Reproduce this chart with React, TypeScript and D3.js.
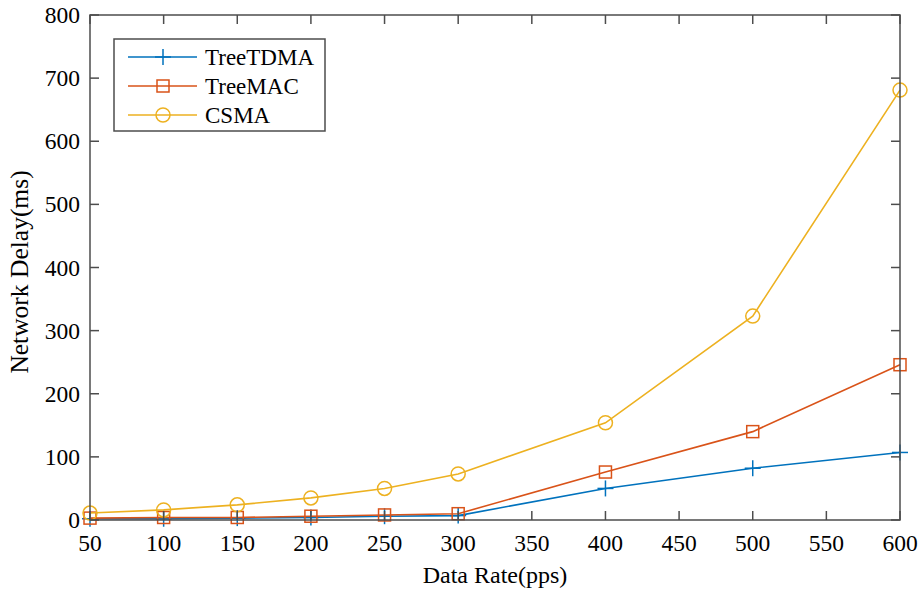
import React from "react";
import * as d3 from "d3";

const rates = [50, 100, 150, 200, 250, 300, 400, 500, 600];
const treeTDMA = [2, 2, 3, 4, 6, 7, 50, 82, 107];
const treeMAC = [3, 4, 4, 6, 8, 10, 76, 140, 246];
const csma = [11, 16, 24, 35, 50, 73, 154, 323, 681];
const xTicks = [50, 100, 150, 200, 250, 300, 350, 400, 450, 500, 550, 600];
const yTicks = [0, 100, 200, 300, 400, 500, 600, 700, 800];
const seriesNames = ["TreeTDMA", "TreeMAC", "CSMA"];

const W = 923, H = 590;
const L = 90, R = 900, T = 15, B = 520;
const font = "'Liberation Serif', 'Times New Roman', serif";
const axisColor = "#4d4d4d";

function Marker({ kind, x, y, color }: { kind: number; x: number; y: number; color: string }) {
  if (kind === 0)
    return (
      <g stroke={color} strokeWidth={1.5}>
        <line x1={x - 8} x2={x + 8} y1={y} y2={y} />
        <line x1={x} x2={x} y1={y - 8} y2={y + 8} />
      </g>
    );
  if (kind === 1)
    return <rect x={x - 6} y={y - 6} width={12} height={12} fill="none" stroke={color} strokeWidth={1.5} />;
  return <circle cx={x} cy={y} r={7} fill="none" stroke={color} strokeWidth={1.5} />;
}

export default function App() {
  const x = d3.scaleLinear().domain([50, 600]).range([L, R]);
  const y = d3.scaleLinear().domain([0, 800]).range([B, T]);
  const colors = ["#0072BD", "#D95319", "#EDB120"];
  const data = [treeTDMA, treeMAC, csma];
  const line = d3
    .line<number>()
    .x((_, i) => x(rates[i]))
    .y((d) => y(d));
  const tl = 9;
  return (
    <svg width={W} height={H} style={{ position: "absolute", left: 0, top: 0, background: "#fff" }}>
      <rect x={0} y={0} width={W} height={H} fill="#fff" />
      {data.map((s, k) => (
        <g key={k}>
          <path d={line(s) || ""} fill="none" stroke={colors[k]} strokeWidth={1.6} />
          {s.map((v, i) => (
            <Marker key={i} kind={k} x={x(rates[i])} y={y(v)} color={colors[k]} />
          ))}
        </g>
      ))}
      <g stroke={axisColor} strokeWidth={1.5}>
        <rect x={L} y={T} width={R - L} height={B - T} fill="none" />
        {xTicks.map((t) => (
          <g key={t}>
            <line x1={x(t)} x2={x(t)} y1={B} y2={B - tl} />
            <line x1={x(t)} x2={x(t)} y1={T} y2={T + tl} />
          </g>
        ))}
        {yTicks.map((t) => (
          <g key={t}>
            <line x1={L} x2={L + tl} y1={y(t)} y2={y(t)} />
            <line x1={R} x2={R - tl} y1={y(t)} y2={y(t)} />
          </g>
        ))}
      </g>
      <g fontFamily={font} fill="#000">
        {xTicks.map((t) => (
          <text key={t} x={x(t)} y={B + 31} textAnchor="middle" fontSize={23.5}>
            {t}
          </text>
        ))}
        {yTicks.map((t) => (
          <text key={t} x={L - 10} y={y(t) + 8} textAnchor="end" fontSize={23.5}>
            {t}
          </text>
        ))}
        <text x={495} y={583} textAnchor="middle" fontSize={24}>
          Data Rate(pps)
        </text>
        <text transform={`translate(28, 272) rotate(-90)`} textAnchor="middle" fontSize={25.5}>
          Network Delay(ms)
        </text>
      </g>
      <g>
        <rect x={114} y={39} width={211} height={92} fill="#fff" stroke={axisColor} strokeWidth={1.5} />
        {seriesNames.map((n, k) => {
          const ly = 57 + k * 29;
          return (
            <g key={n}>
              <line x1={128} x2={197} y1={ly} y2={ly} stroke={colors[k]} strokeWidth={1.6} />
              <Marker kind={k} x={163} y={ly} color={colors[k]} />
              <text x={205} y={ly + 8} fontFamily={font} fontSize={23} fill="#000">
                {n}
              </text>
            </g>
          );
        })}
      </g>
    </svg>
  );
}
